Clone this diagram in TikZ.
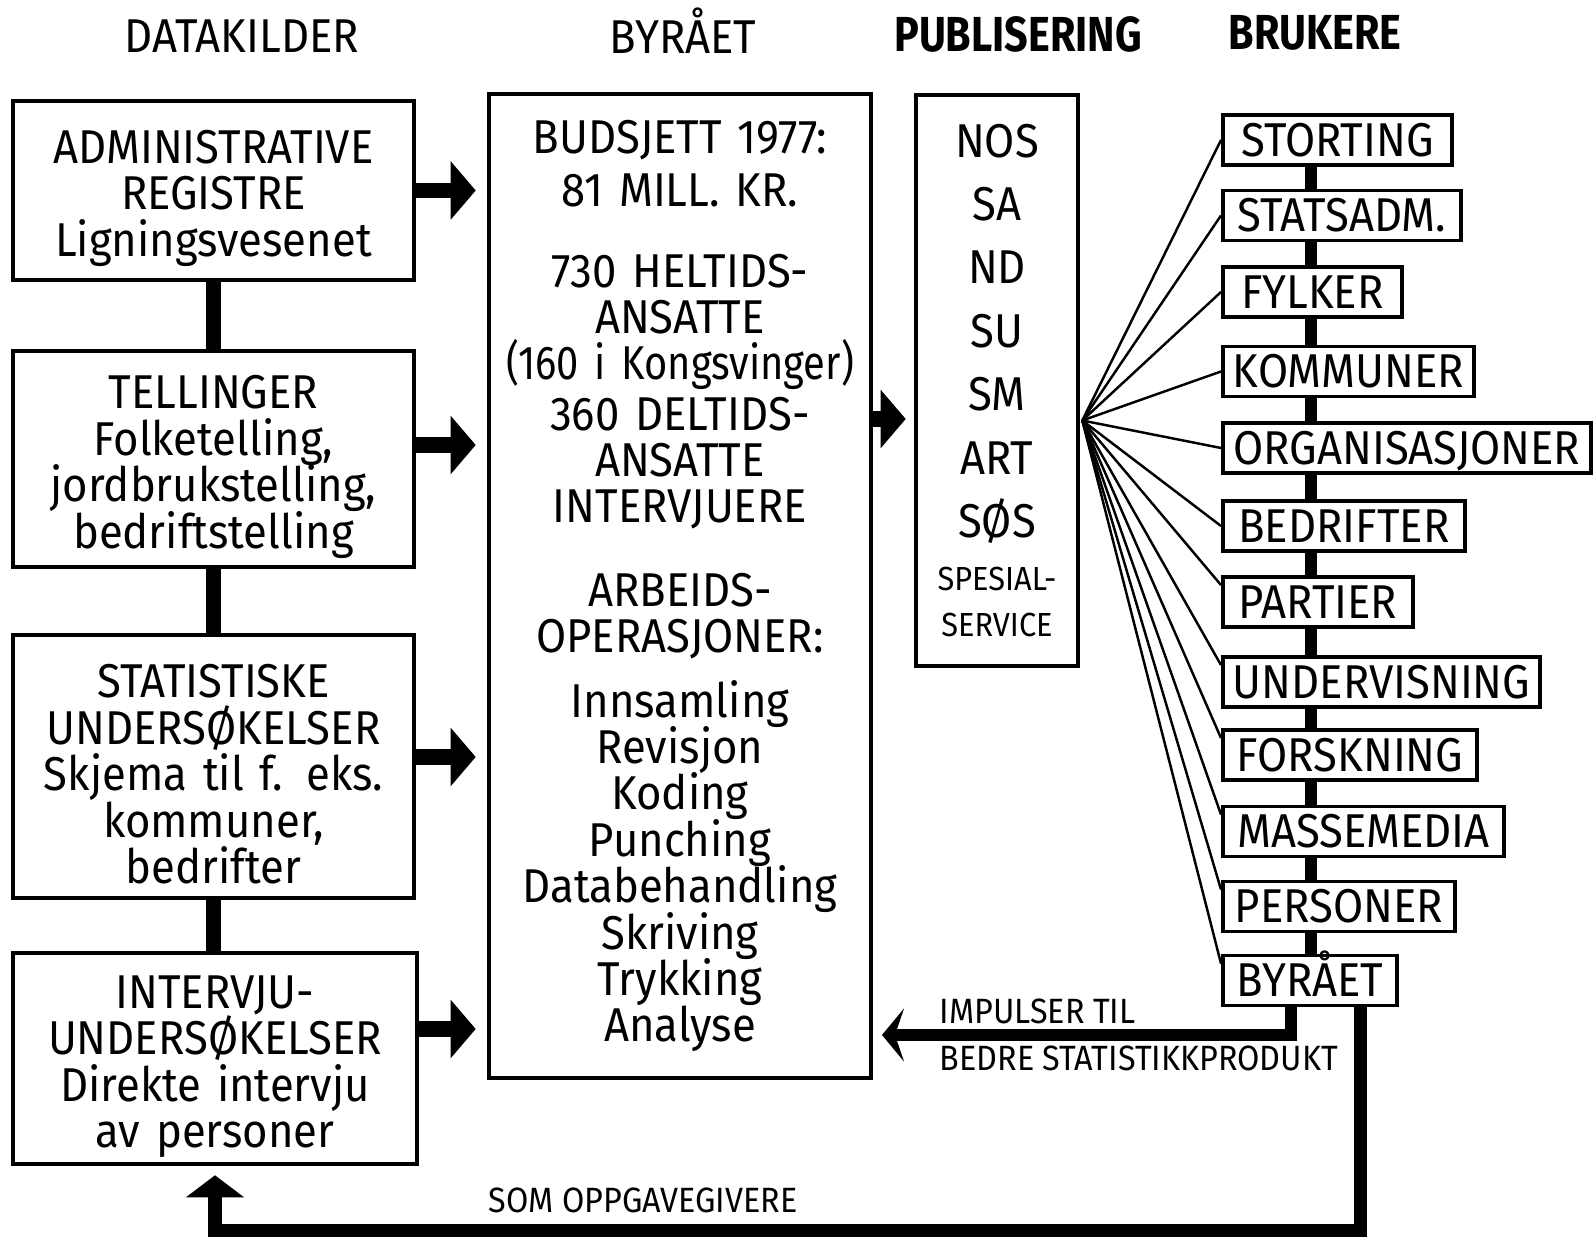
\documentclass[tikz,border=0pt]{standalone}
\usepackage{fontspec}
\setmainfont{Fira Sans}[FakeStretch=0.92]
\newfontfamily\smalfont{Fira Sans}[FakeStretch=0.84]
\usetikzlibrary{positioning,arrows.meta,calc}
\newcommand{\tekst}{\fontsize{13.5}{13.2}\selectfont\lineskiplimit=-20pt}
\newcommand{\brukertekst}{\fontsize{13.5}{14}\selectfont}
\newcommand{\hodetekst}{\smalfont\bfseries\fontsize{14}{14}\selectfont}
\newcommand{\smatekst}{\fontsize{9.5}{9.5}\selectfont\lineskiplimit=-20pt}
\newcommand{\etikettekst}{\fontsize{10}{10}\selectfont}

\begin{document}
\begin{tikzpicture}[x=0.1mm, y=-0.1mm,
    kilde/.style={draw, line width=1.3pt, align=center, text width=38mm,
                  inner sep=0pt, minimum width=40.1mm, font=\tekst},
    datakilde/.style={kilde, execute at begin node={\rule{0pt}{4.9mm}}},
    bruker/.style={draw, fill=white, line width=1.1pt, anchor=west, minimum height=5mm,
                   inner xsep=1mm, inner ysep=0pt, text height=3.3mm, text depth=0mm,
                   font=\brukertekst},
    overskrift/.style={font=\tekst},
    etikett/.style={inner sep=0pt, font=\etikettekst},
    kobling/.style={line width=4pt},
    brukerlinje/.style={line width=3.4pt},
    blokkpil/.style={line width=4.3pt, -{Triangle[length=2.5mm, width=5.7mm]}},
    vifte/.style={line width=0.7pt}]
  \path[fill=white, use as bounding box] (0,0) rectangle (1594,1238);

  % overskrifter
  \node[overskrift] (hkilder) at (242,36) {DATAKILDER};
  \node[overskrift] (hbyraa) at (683,31) {BYRÅET};
  \node[overskrift, font=\hodetekst] (hpubl) at (1018,34) {PUBLISERING};
  \node[overskrift, font=\hodetekst] (hbrukere) at (1315,33) {BRUKERE};

  % datakilder
  \node[datakilde, minimum height=17.9mm] (admin) at (213.5,190.5)
    {ADMINISTRATIVE\\REGISTRE\\Ligningsvesenet};
  \node[datakilde, minimum height=21.6mm] (telling) at (213.5,459)
    {TELLINGER\\Folketelling,\\jordbrukstelling,\\bedriftstelling};
  \node[datakilde, minimum height=26.3mm] (stat) at (213.5,766.5)
    {STATISTISKE\\UNDERSØKELSER\\Skjema til f. eks.\\kommuner,\\bedrifter};
  \node[datakilde, minimum height=21.1mm, minimum width=40.4mm] (intervju) at (215,1058.5)
    {INTERVJU-\\UNDERSØKELSER\\Direkte intervju\\av personer};
  \draw[kobling] (admin.south) -- (telling.north);
  \draw[kobling] (telling.south) -- (stat.north);
  \draw[kobling] (stat.south) -- (stat.south |- intervju.north);

  % byraaet
  \node[kilde, minimum width=38.2mm, minimum height=98.4mm] (hoved) at (680,586)
    {BUDSJETT 1977:\\[0.7mm]81 MILL. KR.\\[3.4mm]
     730 HELTIDS-\\ANSATTE\\{\smalfont (160 i Kongsvinger)}\\[0.4mm]
     360 DELTIDS-\\ANSATTE\\INTERVJUERE\\[3.7mm]
     ARBEIDS-\\OPERASJONER:\\[1.8mm]
     Innsamling\\Revisjon\\Koding\\Punching\\Databehandling\\Skriving\\Trykking\\Analyse};
  \draw[blokkpil] (admin.east) -- ($(hoved.west |- admin.east)+(-11,0)$);
  \draw[blokkpil] ($(telling.east)+(0,-14)$) -- ($(hoved.west |- telling.east)+(-11,-14)$);
  \draw[blokkpil] ($(stat.east)+(0,-9.5)$) -- ($(hoved.west |- stat.east)+(-11,-9.5)$);
  \draw[blokkpil] ($(intervju.east)+(0,-29.5)$) -- ($(hoved.west |- intervju.east)+(-11,-29.5)$);

  % publisering
  \node[kilde, minimum width=16.2mm, minimum height=57.1mm, text width=15mm] (pub) at (997,380.5)
    {NOS\\[1.7mm]SA\\[1.7mm]ND\\[1.7mm]SU\\[1.7mm]SM\\[1.7mm]ART\\[1.7mm]SØS\par
     \vspace{1.95mm}\noindent\smatekst SPESIAL-\\SERVICE};
  \draw[blokkpil, line width=4.6pt] ($(hoved.east)+(0,-167)$) -- ($(pub.west |- hoved.east)+(-8,-167)$);

  % brukere
  \node[bruker, minimum width=22.9mm] (storting) at (1221,140) {STORTING};
  \node[bruker, minimum width=23.8mm] (statsadm) at (1221,215.5) {STATSADM.};
  \node[bruker, minimum width=17.9mm] (fylker) at (1221,292) {FYLKER};
  \node[bruker, minimum width=24.1mm] (kommuner) at (1221,371.5) {KOMMUNER};
  \node[bruker, minimum width=36.8mm] (organisasjoner) at (1221,448) {ORGANISASJONER};
  \node[bruker, minimum width=24.2mm] (bedrifter) at (1221,526) {BEDRIFTER};
  \node[bruker, minimum width=19mm] (partier) at (1221,602) {PARTIER};
  \node[bruker, minimum width=31.6mm] (undervisning) at (1221,682) {UNDERVISNING};
  \node[bruker, minimum width=25.4mm] (forskning) at (1221,755) {FORSKNING};
  \node[bruker, minimum width=28.1mm] (massemedia) at (1221,831.5) {MASSEMEDIA};
  \node[bruker, minimum width=23.2mm] (personer) at (1221,906.5) {PERSONER};
  \node[bruker, minimum width=17.4mm] (byraa) at (1221,980.5) {BYRÅET};
  \foreach \a/\b in {storting/statsadm, statsadm/fylker, fylker/kommuner,
                     kommuner/organisasjoner, organisasjoner/bedrifter, bedrifter/partier,
                     partier/undervisning, undervisning/forskning, forskning/massemedia,
                     massemedia/personer, personer/byraa}
    \draw[brukerlinje] ($(\a.south west)+(90,0)$) -- ($(\b.north west)+(90,0)$);

  % vifte fra publisering til brukerne
  \coordinate (viftepunkt) at ($(pub.east)+(2,40)$);
  \foreach \b in {storting, statsadm, fylker, kommuner, organisasjoner, bedrifter}
    \draw[vifte] (viftepunkt) -- (\b.west);
  \foreach \b in {partier, undervisning, forskning, massemedia, personer, byraa}
    \draw[vifte] (viftepunkt) -- ($(\b.north west)+(0,10)$);

  % tilbakekobling
  \coordinate (impuls) at (882,1035);
  \draw[line width=3.5pt, -{Stealth[length=2.2mm, width=5.3mm, inset=0.9mm]}]
    ($(byraa.south west)+(70,0)$) |- (impuls);
  \draw[line width=3.7pt, -{Triangle[length=2.2mm, width=5.7mm]}]
    ($(byraa.south west)+(139,0)$) |- ($(intervju.south)+(0,64)$) -- ($(intervju.south)+(0,9)$);
  \node[etikett, anchor=west] (impulser) at (939,1011) {IMPULSER TIL};
  \node[etikett, anchor=west] (bedre) at (939,1058) {BEDRE STATISTIKKPRODUKT};
  \node[etikett] (oppgave) at (643,1200) {SOM OPPGAVEGIVERE};
\end{tikzpicture}
\end{document}
